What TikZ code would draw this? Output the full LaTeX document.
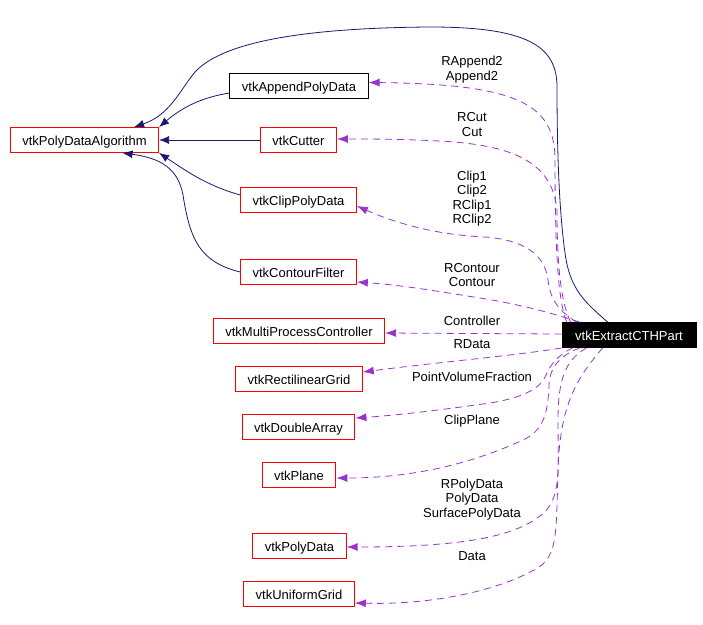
\documentclass[tikz,border=0pt]{standalone}
\usepackage{fontspec}
\setmainfont{Liberation Sans}
\usepackage{tikz}
\usetikzlibrary{positioning,arrows.meta}
\definecolor{navy}{HTML}{191970}
\definecolor{orchid}{HTML}{9A32CD}
\begin{document}
\begin{tikzpicture}[x=1pt,y=-1pt,font=\fontsize{13}{14.5}\selectfont]
\tikzstyle{c} = [rectangle, draw=red, line width=0.9pt, minimum height=25pt, inner xsep=12pt, inner ysep=0pt, text height=11.5pt, text depth=0pt]
\tikzstyle{k} = [c, draw=black]
\tikzstyle{m} = [c, draw=black, fill=black, text=white, minimum width=134pt]
\tikzstyle{l} = [align=center, inner sep=0pt]
\tikzstyle{i} = [-{Latex[length=10pt,width=8pt]}, draw=navy, line width=0.8pt]
\tikzstyle{u} = [-{Latex[length=11pt,width=8pt]}, draw=orchid, line width=0.8pt, dash pattern=on 7pt off 5pt]
\useasboundingbox (0,0) rectangle (703,624);
\node[c] (pda) at (84.5,140) {vtkPolyDataAlgorithm};
\node[k] (append) at (299,85.5) {vtkAppendPolyData};
\node[c] (cutter) at (298.5,140) {vtkCutter};
\node[c] (clip) at (298.5,200) {vtkClipPolyData};
\node[c] (contour) at (298.5,272) {vtkContourFilter};
\node[c] (mpc) at (299,330.5) {vtkMultiProcessController};
\node[c] (rgrid) at (299,378.5) {vtkRectilinearGrid};
\node[c] (darray) at (298.5,426.5) {vtkDoubleArray};
\node[c] (plane) at (299,474.5) {vtkPlane};
\node[c] (pdata) at (299.5,545.5) {vtkPolyData};
\node[c] (ugrid) at (299,593.5) {vtkUniformGrid};
\node[m] (cth) at (629,335) {vtkExtractCTHPart};
\node[l] (lappend) at (472,69.5) {RAppend2\\Append2};
\node[l] (lcut) at (472,124.5) {RCut\\Cut};
\node[l] (lclip) at (472,198.5) {Clip1\\Clip2\\RClip1\\RClip2};
\node[l] (lcontour) at (472,275) {RContour\\Contour};
\node[l] (lmpc) at (472,321) {Controller};
\node[l] (lrgrid) at (472,344) {RData};
\node[l] (ldarray) at (472,377) {PointVolumeFraction};
\node[l] (lplane) at (472,421) {ClipPlane};
\node[l] (lpdata) at (472,499.5) {RPolyData\\PolyData\\SurfacePolyData};
\node[l] (lugrid) at (472,556.5) {Data};
\draw[i] ([xshift=46pt]cth.north west) .. controls (585,302) and (570,290) .. (565,253) .. controls (559,210) and (557,150) .. (557,85) .. controls (556,45) and (525,27) .. (430,27) .. controls (290,28) and (220,45) .. (195,72) .. controls (180,90) and (170,115) .. ([xshift=-25pt]pda.north east);
\draw[i] ([yshift=-7.5pt]append.west) .. controls (205,97) and (185,105) .. (pda.north east);
\draw[i] (cutter) -- (pda);
\draw[i] ([yshift=5pt]clip.west) .. controls (205,185) and (185,170) .. (pda.south east);
\draw[i] (contour.west) .. controls (200,262) and (190,240) .. (183,195) .. controls (178,168) and (160,158) .. ([xshift=38pt]pda.south);
\draw[u] ([xshift=5pt]cth.north west) .. controls (558,300) and (555,250) .. (555,160) .. controls (555,105) and (520,84) .. ([yshift=3pt]append.east);
\draw[u] ([xshift=9pt]cth.north west) .. controls (560,300) and (557,260) .. (557,210) .. controls (552,160) and (510,145) .. (440,141) .. controls (400,139) and (370,139) .. ([yshift=1pt]cutter.east);
\draw[u] ([xshift=15pt]cth.north west) .. controls (560,312) and (550,300) .. (548,280) .. controls (545,255) and (525,240) .. (485,237) .. controls (440,235) and (400,225) .. ([yshift=-6pt]clip.east);
\draw[u] ([xshift=18pt]cth.north west) .. controls (560,316) and (530,306) .. (480,298) .. controls (430,290) and (400,285) .. ([yshift=-10pt]contour.east);
\draw[u] ([yshift=1pt]cth.west) -- ([yshift=-2.5pt]mpc.east);
\draw[u] (cth.south west) .. controls (520,355) and (440,362) .. ([yshift=6.5pt]rgrid.east);
\draw[u] ([xshift=11pt]cth.south west) .. controls (558,355) and (550,365) .. (546,375) .. controls (540,390) and (520,398) .. (490,403) .. controls (440,410) and (400,415) .. ([yshift=8.5pt]darray.east);
\draw[u] ([xshift=18pt]cth.south west) .. controls (562,355) and (550,365) .. (549,385) .. controls (548,410) and (545,430) .. (523,440) .. controls (490,455) and (430,478) .. ([yshift=-3.5pt]plane.east);
\draw[u] ([xshift=25pt]cth.south west) .. controls (565,360) and (558,380) .. (558,420) .. controls (558,470) and (562,500) .. (540,516) .. controls (515,535) and (470,547) .. ([yshift=-1.5pt]pdata.east);
\draw[u] ([xshift=41pt]cth.south west) .. controls (580,375) and (560,400) .. (558,470) .. controls (556,540) and (558,560) .. (530,572) .. controls (500,588) and (440,605) .. ([yshift=-9.5pt]ugrid.east);
\end{tikzpicture}
\end{document}
